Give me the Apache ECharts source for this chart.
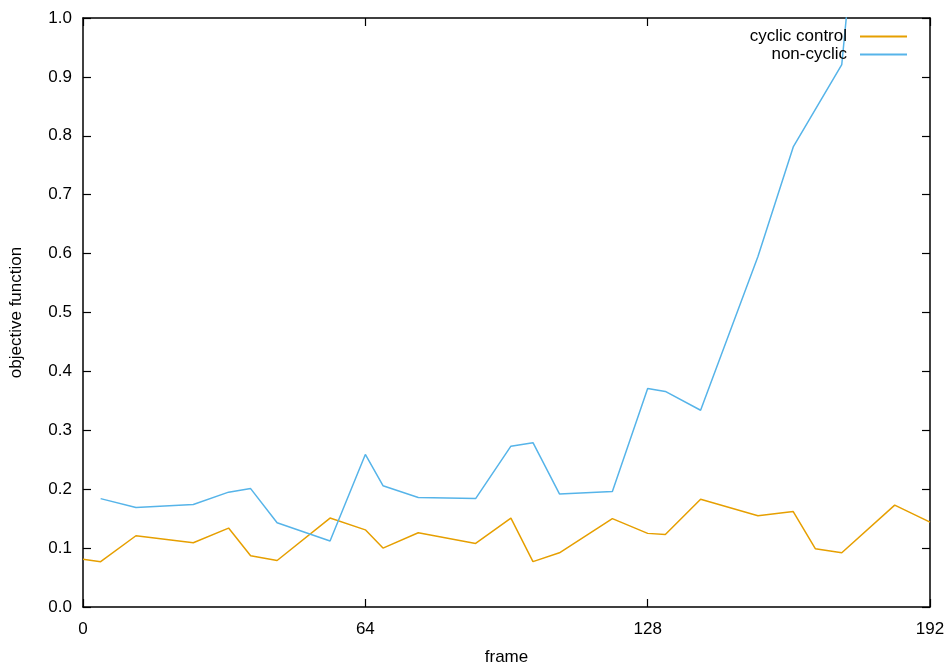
<!DOCTYPE html>
<html><head><meta charset="utf-8">
<script src="https://cdn.jsdelivr.net/npm/echarts@6/dist/echarts.min.js"></script>
<style>html,body{margin:0;padding:0;background:#fff}#c{width:945px;height:662px}</style>
</head><body><div id="c"></div>
<script>
const cyclicFrames = [0,4,12,25,33,38,44,56,64,68,76,89,97,102,108,120,128,132,140,153,161,166,172,184,192];
const cyclicValues = [0.081,0.077,0.121,0.109,0.134,0.087,0.079,0.151,0.131,0.100,0.126,0.108,0.151,0.077,0.092,0.150,0.125,0.123,0.183,0.155,0.162,0.099,0.092,0.173,0.144];
const nonCyclicFrames = [4,12,25,33,38,44,56,64,68,76,89,97,102,108,120,128,132,140,153,161,172,184];
const nonCyclicValues = [0.184,0.169,0.174,0.195,0.201,0.143,0.112,0.259,0.206,0.186,0.184,0.273,0.279,0.192,0.196,0.371,0.366,0.334,0.595,0.781,0.921,1.85];
const xTicks = [0,64,128,192];
const yTicks = [0,0.1,0.2,0.3,0.4,0.5,0.6,0.7,0.8,0.9,1.0];

const FONT = 'Liberation Sans';
const pair = (xs, ys) => xs.map((x, i) => [x, ys[i]]);
const axisLine = {show: true, onZero: false, lineStyle: {color: '#000', width: 1.5}};
const tick = {show: true, inside: true, length: 8, lineStyle: {color: '#000', width: 1.2}};

const chart = echarts.init(document.getElementById('c'), null, {renderer: 'canvas'});
chart.setOption({
  animation: false,
  backgroundColor: '#fff',
  textStyle: {fontFamily: FONT},
  grid: {left: 83, right: 15, top: 18, bottom: 55, containLabel: false, outerBoundsMode: 'none'},
  legend: [
    {data: ['cyclic control'], right: 33, top: 23, align: 'right', itemWidth: 47, itemHeight: 2, itemGap: 0,
     icon: 'rect', textStyle: {fontFamily: FONT, fontSize: 17, color: '#000', padding: [0, 8, 0, 0]}},
    {data: ['non-cyclic'], right: 33, top: 41, align: 'right', itemWidth: 47, itemHeight: 2, itemGap: 0,
     icon: 'rect', textStyle: {fontFamily: FONT, fontSize: 17, color: '#000', padding: [0, 8, 0, 0]}}
  ],
  xAxis: [
    {type: 'value', min: xTicks[0], max: xTicks[xTicks.length - 1], interval: xTicks[1] - xTicks[0],
     name: 'frame', nameLocation: 'middle', nameGap: 42,
     nameTextStyle: {fontFamily: FONT, fontSize: 17, color: '#000'},
     axisLine: axisLine, axisTick: tick, splitLine: {show: false},
     axisLabel: {fontFamily: FONT, fontSize: 17, color: '#000', margin: 14}},
    {type: 'value', position: 'top', min: xTicks[0], max: xTicks[xTicks.length - 1], interval: xTicks[1] - xTicks[0],
     axisLine: axisLine, axisTick: tick, splitLine: {show: false}, axisLabel: {show: false}}
  ],
  yAxis: [
    {type: 'value', min: yTicks[0], max: yTicks[yTicks.length - 1], interval: 0.1,
     name: 'objective function', nameLocation: 'middle', nameGap: 58, nameRotate: 90,
     nameTextStyle: {fontFamily: FONT, fontSize: 17, color: '#000'},
     axisLine: axisLine, axisTick: tick, splitLine: {show: false},
     axisLabel: {fontFamily: FONT, fontSize: 17, color: '#000', margin: 11, formatter: v => v.toFixed(1)}},
    {type: 'value', position: 'right', min: yTicks[0], max: yTicks[yTicks.length - 1], interval: 0.1,
     axisLine: axisLine, axisTick: tick, splitLine: {show: false}, axisLabel: {show: false}}
  ],
  series: [
    {name: 'cyclic control', type: 'line', data: pair(cyclicFrames, cyclicValues), showSymbol: false, symbol: 'none',
     clip: true, lineStyle: {color: '#E69F00', width: 1.5}, itemStyle: {color: '#E69F00'}},
    {name: 'non-cyclic', type: 'line', data: pair(nonCyclicFrames, nonCyclicValues), showSymbol: false, symbol: 'none',
     clip: true, lineStyle: {color: '#56B4E9', width: 1.5}, itemStyle: {color: '#56B4E9'}}
  ]
});
</script></body></html>
